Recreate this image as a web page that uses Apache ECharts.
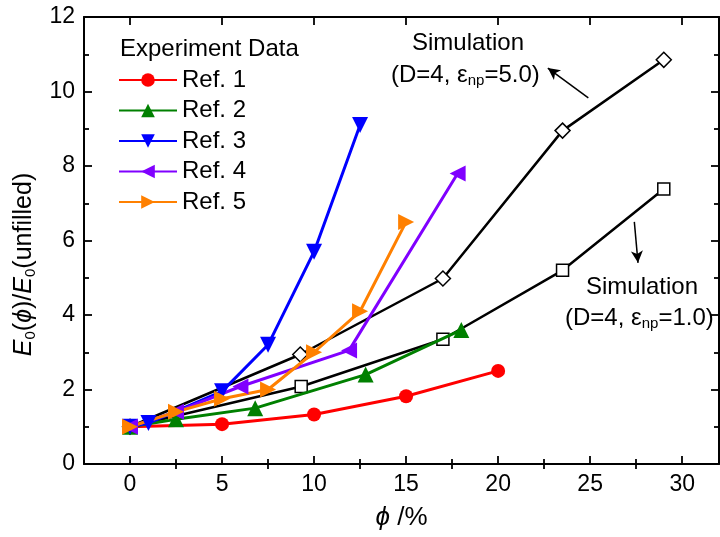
<!DOCTYPE html>
<html>
<head>
<meta charset="utf-8">
<script src="https://cdn.jsdelivr.net/npm/echarts@6/dist/echarts.min.js"></script>
<style>
html, body { margin: 0; background: #fff; }
#chart { width: 720px; height: 537px; }
</style>
</head>
<body>
<div id="chart"></div>
<script>
// tick values
const xMajor = [0, 5, 10, 15, 20, 25, 30]
const xMinor = [2.5, 7.5, 12.5, 17.5, 22.5, 27.5]

// experiment data, [phi %, E0/E0(unfilled)]
const ref1 = [[0, 1], [5, 1.07], [10, 1.33], [15, 1.82], [20, 2.5]]
const ref2 = [[0, 1], [2.5, 1.2], [6.8, 1.5], [12.8, 2.4], [18, 3.6]]
const ref3 = [[0, 1], [1, 1.1], [5, 1.95], [7.5, 3.2], [10, 5.7], [12.5, 9.1]]
const ref4 = [[0, 1], [2.5, 1.4], [6, 2.08], [11.9, 3.05], [17.8, 7.8]]
const ref5 = [[0, 1], [2.5, 1.4], [5, 1.75], [7.5, 2.0], [10, 3.0], [12.5, 4.1], [15, 6.5]]

// simulation curves
const simEps5 = [[0, 1], [9.25, 2.94], [17, 4.98], [23.5, 8.95], [29, 10.85]]
const simEps1 = [[0, 1], [9.3, 2.08], [17, 3.35], [23.5, 5.2], [29, 7.38]]

// annotation arrows (data coords)
const arrowEps5 = [[24.9, 9.83], [22.7, 10.63]]
const arrowEps1 = [[27.4, 6.5], [27.6, 5.4]]

const FONT = 'Liberation Sans'

const chart = echarts.init(document.getElementById('chart'))

const tickStyle = { color: '#000', width: 1.8 }
const baseX = {
  type: 'value',
  min: -2.5,
  max: 32,
  splitLine: { show: false },
  axisLine: { show: true, onZero: false, lineStyle: { color: '#000', width: 2 } },
}
const baseY = {
  type: 'value',
  min: 0,
  max: 12,
  interval: 2,
  splitLine: { show: false },
  axisLine: { show: true, onZero: false, lineStyle: { color: '#000', width: 2 } },
  axisTick: { inside: true, length: 8, lineStyle: tickStyle },
  minorTick: { show: true, splitNumber: 2, length: 5, lineStyle: tickStyle },
}

const expSeries = (name, data, color, symbol, rotate, size) => ({
  name,
  type: 'line',
  data,
  color,
  symbol,
  symbolRotate: rotate,
  symbolSize: size,
  lineStyle: { width: 3, color },
  itemStyle: { color },
  z: 3,
})

const simSeries = (data, symbol, size, arrow) => ({
  type: 'line',
  data,
  symbol,
  symbolSize: size,
  lineStyle: { width: 2.5, color: '#000' },
  itemStyle: { color: '#fff', borderColor: '#000', borderWidth: 1.5 },
  z: 2,
  markLine: {
    silent: true,
    symbol: ['none', 'arrow'],
    symbolSize: [9, 12],
    label: { show: false },
    lineStyle: { color: '#000', width: 1.5, type: 'solid' },
    data: [[{ coord: arrow[0] }, { coord: arrow[1] }]],
  },
})

const subRich = {
  g: { fontFamily: FONT, fontSize: 24 },
  s: { fontFamily: FONT, fontSize: 15, padding: [12, 0, 0, 0] },
}

const option = {
  animation: false,
  backgroundColor: '#fff',
  textStyle: { fontFamily: FONT },
  grid: { left: 84, right: 1, top: 17, bottom: 73 },
  title: {
    text: 'Experiment Data',
    left: 115,
    top: 32,
    textStyle: { fontFamily: FONT, fontSize: 24, fontWeight: 'normal', color: '#000' },
  },
  legend: {
    orient: 'vertical',
    left: 113,
    top: 63,
    itemWidth: 58,
    itemHeight: 17,
    itemGap: 6.5,
    data: ['Ref. 1', 'Ref. 2', 'Ref. 3', 'Ref. 4', 'Ref. 5'],
    textStyle: { fontFamily: FONT, fontSize: 24, color: '#000' },
  },
  xAxis: [
    {
      ...baseX,
      position: 'bottom',
      axisTick: { inside: true, length: 8, lineStyle: tickStyle, customValues: xMajor },
      axisLabel: { customValues: xMajor, fontSize: 23, color: '#000', margin: 9, fontFamily: FONT },
      name: '{i|ϕ} /%',
      nameLocation: 'middle',
      nameGap: 41,
      nameTextStyle: {
        fontFamily: FONT, fontSize: 26, color: '#000',
        rich: { i: { fontFamily: FONT, fontSize: 26, fontStyle: 'italic', color: '#000' } },
      },
    },
    {
      ...baseX,
      position: 'bottom',
      axisLine: { show: false },
      axisTick: { inside: true, length: 5, lineStyle: tickStyle, customValues: xMinor },
      axisLabel: { show: false },
    },
    {
      ...baseX,
      position: 'top',
      axisTick: { inside: true, length: 8, lineStyle: tickStyle, customValues: xMajor },
      axisLabel: { show: false },
    },
    {
      ...baseX,
      position: 'top',
      axisLine: { show: false },
      axisTick: { inside: true, length: 5, lineStyle: tickStyle, customValues: xMinor },
      axisLabel: { show: false },
    },
  ],
  yAxis: [
    {
      ...baseY,
      position: 'left',
      axisLabel: { fontSize: 23, color: '#000', margin: 9, fontFamily: FONT },
      name: '{i|E}{s|0}({i|ϕ})/{i|E}{s|0}(unfilled)',
      nameLocation: 'middle',
      nameGap: 46,
      nameTextStyle: {
        fontFamily: FONT, fontSize: 25, color: '#000',
        padding: [0, 48, 0, 0],
        rich: {
          i: { fontFamily: FONT, fontSize: 25, fontStyle: 'italic', color: '#000' },
          s: { fontFamily: FONT, fontSize: 15, color: '#000', padding: [12, 0, 0, 0] },
        },
      },
    },
    {
      ...baseY,
      position: 'right',
      axisLabel: { show: false },
    },
  ],
  graphic: [
    {
      type: 'text', left: 412, top: 31,
      style: { text: 'Simulation', fontFamily: FONT, fontSize: 24, fill: '#000' },
    },
    {
      type: 'text', left: 391, top: 63,
      style: { text: '(D=4, {g|ε}{s|np}=5.0)', fontFamily: FONT, fontSize: 24, fill: '#000', rich: subRich },
    },
    {
      type: 'text', left: 586, top: 275,
      style: { text: 'Simulation', fontFamily: FONT, fontSize: 24, fill: '#000' },
    },
    {
      type: 'text', left: 565, top: 306,
      style: { text: '(D=4, {g|ε}{s|np}=1.0)', fontFamily: FONT, fontSize: 24, fill: '#000', rich: subRich },
    },
  ],
  series: [
    simSeries(simEps5, 'diamond', 15, arrowEps5),
    simSeries(simEps1, 'rect', 12, arrowEps1),
    expSeries('Ref. 1', ref1, '#ff0000', 'circle', 0, 14),
    expSeries('Ref. 2', ref2, '#008000', 'triangle', 0, 16),
    expSeries('Ref. 3', ref3, '#0000ff', 'triangle', 180, 16),
    expSeries('Ref. 4', ref4, '#8000ff', 'triangle', 90, 16),
    expSeries('Ref. 5', ref5, '#ff8000', 'triangle', -90, 16),
  ],
}

chart.setOption(option)
</script>
</body>
</html>
